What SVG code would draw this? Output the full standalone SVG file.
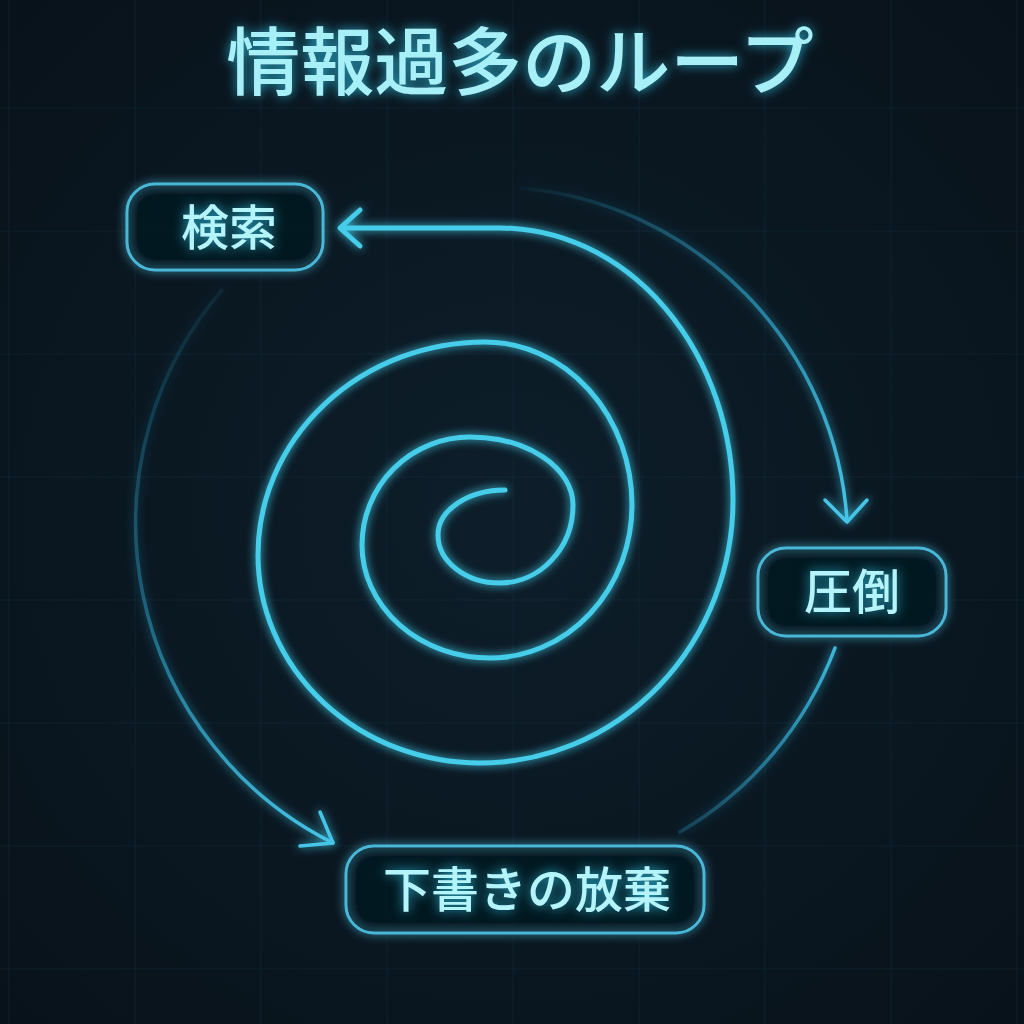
<svg xmlns="http://www.w3.org/2000/svg" width="1024" height="1024" viewBox="0 0 1024 1024">
  <defs>
    <radialGradient id="bg" cx="50%" cy="50%" r="70%">
      <stop offset="0" stop-color="#0d1e2a"/>
      <stop offset="1" stop-color="#08121a"/>
    </radialGradient>
    <filter id="glow" x="-20%" y="-20%" width="140%" height="140%">
      <feGaussianBlur in="SourceGraphic" stdDeviation="5" result="b"/>
      <feMerge><feMergeNode in="b"/><feMergeNode in="SourceGraphic"/></feMerge>
    </filter>
    <filter id="tglow" x="-20%" y="-40%" width="140%" height="180%">
      <feGaussianBlur in="SourceAlpha" stdDeviation="6" result="a"/>
      <feFlood flood-color="#2ec4e6" flood-opacity="0.85"/>
      <feComposite in2="a" operator="in" result="g"/>
      <feMerge><feMergeNode in="g"/><feMergeNode in="SourceGraphic"/></feMerge>
    </filter>
    <linearGradient id="g1" gradientUnits="userSpaceOnUse" x1="521" y1="188" x2="847" y2="520">
      <stop offset="0" stop-color="#2a9cc4" stop-opacity="0.05"/>
      <stop offset="0.5" stop-color="#2fa6cc" stop-opacity="0.6"/>
      <stop offset="1" stop-color="#45c6e8" stop-opacity="1"/>
    </linearGradient>
    <linearGradient id="g2" gradientUnits="userSpaceOnUse" x1="835" y1="648" x2="680" y2="832">
      <stop offset="0" stop-color="#3cb8dc" stop-opacity="1"/>
      <stop offset="1" stop-color="#2a9cc4" stop-opacity="0.25"/>
    </linearGradient>
    <linearGradient id="g3" gradientUnits="userSpaceOnUse" x1="222" y1="290" x2="333" y2="843">
      <stop offset="0" stop-color="#2a9cc4" stop-opacity="0.1"/>
      <stop offset="0.5" stop-color="#2a9cc4" stop-opacity="0.45"/>
      <stop offset="1" stop-color="#45c6e8" stop-opacity="1"/>
    </linearGradient>
    <style>
      .grid line { stroke: #16303e; stroke-width: 1; opacity: 0.45; }
      .box { fill: #0a1620; fill-opacity: 0.6; stroke: #4ab8d8; stroke-width: 3; }
      .lbl { font-family: "Noto Sans CJK JP", "Noto Sans CJK SC", sans-serif; font-weight: 500; font-size: 48px; fill: #b4f4fb; text-anchor: middle; }
      .spiral { fill: none; stroke: #44cdea; stroke-width: 5; stroke-linecap: round; stroke-linejoin: round; }
      .thin { fill: none; stroke-width: 3.5; stroke-linecap: round; stroke-linejoin: round; }
    </style>
  </defs>

  <rect width="1024" height="1024" fill="url(#bg)"/>

  <g class="grid">
    <line x1="9" y1="0" x2="9" y2="1024"/>
    <line x1="135" y1="0" x2="135" y2="1024"/>
    <line x1="261" y1="0" x2="261" y2="1024"/>
    <line x1="387" y1="0" x2="387" y2="1024"/>
    <line x1="513" y1="0" x2="513" y2="1024"/>
    <line x1="639" y1="0" x2="639" y2="1024"/>
    <line x1="765" y1="0" x2="765" y2="1024"/>
    <line x1="891" y1="0" x2="891" y2="1024"/>
    <line x1="1017" y1="0" x2="1017" y2="1024"/>
    <line x1="0" y1="108" x2="1024" y2="108"/>
    <line x1="0" y1="231" x2="1024" y2="231"/>
    <line x1="0" y1="354" x2="1024" y2="354"/>
    <line x1="0" y1="477" x2="1024" y2="477"/>
    <line x1="0" y1="600" x2="1024" y2="600"/>
    <line x1="0" y1="723" x2="1024" y2="723"/>
    <line x1="0" y1="846" x2="1024" y2="846"/>
    <line x1="0" y1="969" x2="1024" y2="969"/>
  </g>

  <text id="title" x="520" y="89" font-family="'Noto Sans CJK JP', 'Noto Sans CJK SC', sans-serif" font-weight="500" font-size="74" fill="#a8f0f8" text-anchor="middle" filter="url(#tglow)">情報過多のループ</text>

  <g id="connectors">
    <g filter="url(#glow)">
      <path class="spiral" d="M 505 490 A 67 45 0 0 0 438 535 A 62 48 0 0 0 500 583 A 73 78 0 0 0 573 505 A 103 68 0 0 0 470 437 A 108 108 0 0 0 362 545 A 128 113 0 0 0 490 658 A 142 153 0 0 0 632 505 A 147 163 0 0 0 485 342 A 227 213 0 0 0 258 555 A 222 208 0 0 0 480 763 A 253 263 0 0 0 733 500 A 233 272 0 0 0 500 228 L 342 228"/>
      <path class="spiral" d="M 360 210 L 340 228 L 360 246"/>
    </g>
    <g filter="url(#glow)">
      <path class="thin" stroke="url(#g1)" d="M 521 188 A 358 358 0 0 1 847 520"/>
      <path class="thin" stroke="#45c6e8" d="M 825 500 L 847 522 L 867 500"/>
      <path class="thin" stroke="url(#g2)" d="M 835 648 A 360 360 0 0 1 680 832"/>
      <path class="thin" stroke="url(#g3)" d="M 222 290 A 358 358 0 0 0 333 843"/>
      <path class="thin" stroke="#45c6e8" d="M 320 812 L 333 843 L 300 846"/>
    </g>
  </g>

  <g id="node-search">
    <rect class="box" x="127" y="184" width="196" height="86" rx="28" filter="url(#glow)"/>
    <text class="lbl" x="229" y="245" filter="url(#tglow)">検索</text>
  </g>
  <g id="node-overwhelm">
    <rect class="box" x="758" y="548" width="188" height="88" rx="28" filter="url(#glow)"/>
    <text class="lbl" x="852" y="609" filter="url(#tglow)">圧倒</text>
  </g>
  <g id="node-abandon">
    <rect class="box" x="346" y="846" width="358" height="87" rx="28" filter="url(#glow)"/>
    <text class="lbl" x="527" y="907" filter="url(#tglow)">下書きの放棄</text>
  </g>
</svg>
